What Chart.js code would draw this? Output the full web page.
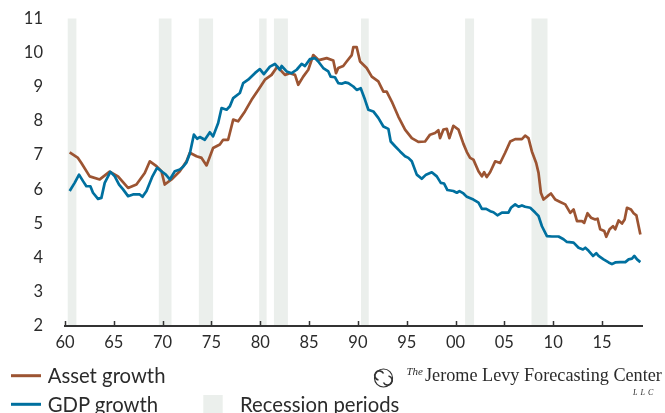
<!DOCTYPE html>
<html>
<head>
<meta charset="utf-8">
<script src="https://cdn.jsdelivr.net/npm/chart.js@4.4.1/dist/chart.umd.min.js"></script>
<style>
    body { margin: 0; background: #fff; }
    #wrap { position: relative; width: 665px; height: 413px; overflow: hidden; }
    #chart { position: absolute; left: 0; top: 0; }
    #legend { position: absolute; left: 0; top: 0; pointer-events: none; }
    .lbl { font-family: Lato, sans-serif; font-size: 20.3px; fill: #2b2b2b; }
    .logo { font-family: "Liberation Serif", serif; fill: #2b2b2b; }
</style>
</head>
<body>
<div id="wrap">
    <canvas id="chart" width="665" height="360"></canvas>
    <svg id="legend" width="665" height="413">
        <line x1="11" y1="375.7" x2="41" y2="375.7" stroke="#9c5432" stroke-width="3"/>
        <text class="lbl" x="47.7" y="383.3">Asset growth</text>
        <line x1="11" y1="404.3" x2="41" y2="404.3" stroke="#00709f" stroke-width="3"/>
        <text class="lbl" x="47.7" y="412">GDP growth</text>
        <rect x="203.3" y="395" width="19.4" height="20" fill="#ebefec"/>
        <text class="lbl" x="240" y="412">Recession periods</text>

        <!-- logo mark -->
        <circle cx="383.5" cy="378" r="9" fill="none" stroke="#333" stroke-width="1.2"/>
        <path d="M378.5 380 a 4.6 4.6 0 1 1 5 -6.5" fill="none" stroke="#333" stroke-width="1.6"/>
        <path d="M388.5 376 a 4.6 4.6 0 1 1 -5 6.5" fill="none" stroke="#333" stroke-width="1.6"/>
        <text class="logo" x="406.5" y="375" font-size="11" font-style="italic">The</text>
        <text class="logo" x="425" y="380.7" font-size="18.2">Jerome Levy Forecasting Center</text>
        <text class="logo" x="633" y="394.5" font-size="8" font-style="italic" letter-spacing="3">LLC</text>
    </svg>
</div>
<script>
// GDP growth, trailing rate (%)
const gdpYear = [1960.48, 1960.99, 1961.44, 1961.85, 1962.19, 1962.60, 1962.87, 1963.38, 1963.73, 1964.07,
    1964.65, 1965.10, 1965.54, 1965.95, 1966.46, 1966.97, 1967.66, 1967.94, 1968.35, 1968.96,
    1969.43, 1969.88, 1970.33, 1970.74, 1971.25, 1971.76, 1972.10, 1972.45, 1972.79, 1973.20,
    1973.53, 1973.81, 1974.32, 1974.84, 1975.17, 1975.69, 1976.04, 1976.55, 1976.89, 1977.23,
    1977.91, 1978.25, 1978.76, 1979.45, 1979.96, 1980.37, 1980.99, 1981.50, 1982.01, 1982.19,
    1982.70, 1983.21, 1983.73, 1984.24, 1984.58, 1985.09, 1985.60, 1985.94, 1986.45, 1986.97,
    1987.21, 1987.65, 1987.99, 1988.34, 1988.68, 1989.02, 1989.53, 1989.88, 1990.29, 1990.73,
    1991.07, 1991.58, 1992.09, 1992.61, 1993.12, 1993.36, 1993.81, 1994.32, 1994.83, 1995.17,
    1995.52, 1996.03, 1996.54, 1996.98, 1997.57, 1998.08, 1998.49, 1998.83, 1999.17, 1999.78,
    2000.13, 2000.40, 2000.81, 2001.16, 2001.83, 2002.35, 2002.70, 2003.14, 2003.55, 2003.88,
    2004.29, 2004.75, 2005.42, 2005.67, 2006.11, 2006.45, 2006.80, 2007.13, 2007.65, 2008.16,
    2008.50, 2008.85, 2009.36, 2009.87, 2010.55, 2011.06, 2011.41, 2012.09, 2012.60, 2013.05,
    2013.29, 2013.63, 2014.08, 2014.41, 2014.65, 2015.16, 2015.68, 2016.02, 2016.36, 2016.87,
    2017.39, 2017.73, 2018.07, 2018.31, 2018.59, 2018.93];
const gdpGrowth = [5.95, 6.19, 6.43, 6.24, 6.09, 6.09, 5.90, 5.72, 5.75, 6.19,
    6.51, 6.38, 6.14, 6.00, 5.80, 5.85, 5.85, 5.78, 5.95, 6.38,
    6.63, 6.53, 6.43, 6.29, 6.53, 6.58, 6.66, 6.79, 7.05, 7.60,
    7.48, 7.53, 7.45, 7.67, 7.55, 7.94, 8.38, 8.33, 8.43, 8.67,
    8.82, 9.11, 9.21, 9.40, 9.52, 9.37, 9.59, 9.67, 9.50, 9.61,
    9.45, 9.40, 9.50, 9.67, 9.61, 9.81, 9.84, 9.74, 9.55, 9.45,
    9.30, 9.28, 9.11, 9.09, 9.13, 9.11, 9.01, 8.91, 8.96, 8.62,
    8.33, 8.28, 8.09, 7.84, 7.77, 7.40, 7.26, 7.11, 6.97, 6.92,
    6.82, 6.43, 6.31, 6.43, 6.50, 6.38, 6.19, 6.17, 5.98, 5.95,
    5.90, 5.95, 5.88, 5.78, 5.70, 5.61, 5.43, 5.43, 5.36, 5.33,
    5.24, 5.32, 5.32, 5.46, 5.56, 5.49, 5.53, 5.49, 5.46, 5.32,
    5.22, 4.92, 4.63, 4.62, 4.62, 4.54, 4.46, 4.44, 4.29, 4.24,
    4.29, 4.20, 4.05, 4.13, 4.05, 3.95, 3.86, 3.81, 3.86, 3.87,
    3.87, 3.95, 3.97, 4.05, 3.95, 3.87];

// Asset growth, trailing rate (%)
const assetYear = [1960.48, 1961.33, 1961.68, 1962.53, 1963.56, 1964.58, 1965.43, 1966.46, 1967.32, 1968.17,
    1968.69, 1969.37, 1969.88, 1970.22, 1970.91, 1971.76, 1972.45, 1972.79, 1973.47, 1973.99,
    1974.50, 1975.17, 1975.86, 1976.20, 1976.71, 1977.23, 1977.74, 1978.43, 1979.11, 1979.79,
    1980.48, 1981.16, 1981.74, 1982.53, 1983.04, 1983.56, 1983.89, 1984.40, 1984.92, 1985.43,
    1985.94, 1986.11, 1986.80, 1987.48, 1987.76, 1987.99, 1988.50, 1988.85, 1989.37, 1989.53,
    1989.88, 1990.22, 1990.90, 1991.42, 1992.09, 1992.61, 1992.95, 1993.47, 1994.14, 1994.83,
    1995.52, 1996.19, 1996.88, 1997.39, 1997.90, 1998.24, 1998.42, 1998.76, 1999.11, 1999.37,
    1999.78, 2000.30, 2000.81, 2001.16, 2001.49, 2001.83, 2002.35, 2002.70, 2002.93, 2003.20,
    2003.54, 2004.06, 2004.57, 2005.08, 2005.60, 2006.11, 2006.80, 2007.13, 2007.47, 2007.82,
    2008.26, 2008.50, 2008.74, 2009.01, 2009.42, 2009.77, 2010.21, 2010.72, 2011.24, 2011.75,
    2012.09, 2012.44, 2012.95, 2013.18, 2013.52, 2013.87, 2014.31, 2014.55, 2014.82, 2015.23,
    2015.44, 2015.78, 2016.13, 2016.36, 2016.70, 2017.05, 2017.32, 2017.56, 2017.97, 2018.24,
    2018.52, 2018.93];
const assetGrowth = [7.08, 6.92, 6.77, 6.38, 6.29, 6.52, 6.38, 6.04, 6.14, 6.48,
    6.82, 6.68, 6.53, 6.14, 6.29, 6.53, 6.82, 7.07, 6.97, 6.92,
    6.70, 7.21, 7.31, 7.45, 7.45, 8.04, 7.99, 8.28, 8.62, 8.91,
    9.21, 9.35, 9.59, 9.35, 9.40, 9.35, 9.06, 9.30, 9.50, 9.93,
    9.79, 9.79, 9.84, 9.77, 9.40, 9.55, 9.61, 9.74, 9.93, 10.16,
    10.16, 9.74, 9.55, 9.30, 9.16, 8.86, 8.86, 8.57, 8.13, 7.75,
    7.50, 7.39, 7.40, 7.60, 7.65, 7.73, 7.50, 7.75, 7.77, 7.50,
    7.86, 7.75, 7.33, 7.09, 6.92, 6.87, 6.53, 6.38, 6.50, 6.36,
    6.50, 6.82, 6.77, 7.07, 7.40, 7.47, 7.47, 7.57, 7.50, 7.11,
    6.77, 6.48, 5.90, 5.70, 5.80, 5.88, 5.70, 5.63, 5.56, 5.31,
    5.41, 5.07, 5.07, 5.02, 5.30, 5.17, 5.12, 5.14, 4.83, 4.78,
    4.61, 4.83, 4.92, 4.83, 5.09, 5.00, 5.12, 5.46, 5.41, 5.30,
    5.24, 4.68];

// NBER recession periods (shaded)
const recessionStart = [1960.28, 1969.61, 1973.71, 1979.89, 1981.40, 1990.32, 2000.98, 2007.78];
const recessionEnd   = [1961.17, 1970.91, 1975.17, 1980.65, 1982.83, 1991.11, 2001.90, 2009.42];

const xTickYears = [1960, 1965, 1970, 1975, 1980, 1985, 1990, 1995, 2000, 2005, 2010, 2015];
const yMin = 2, yMax = 11;

const textColor = '#2b2b2b';

function toPoints(xs, ys) {
    return xs.map((x, i) => ({ x: x, y: ys[i] }));
}

// grey bands behind the lines
const recessionBands = {
    id: 'recessionBands',
    beforeDatasetsDraw(chart) {
        const { ctx, chartArea, scales: { x } } = chart;
        ctx.save();
        ctx.fillStyle = '#ebefec';
        recessionStart.forEach((s, i) => {
            const x0 = x.getPixelForValue(s);
            const x1 = x.getPixelForValue(recessionEnd[i]);
            ctx.fillRect(x0, chartArea.top, x1 - x0, chartArea.bottom - chartArea.top);
        });
        ctx.restore();
    }
};

// baseline with small ticks pointing up into the plot
const baseAxis = {
    id: 'baseAxis',
    afterDatasetsDraw(chart) {
        const { ctx, chartArea, scales: { x } } = chart;
        const y = chartArea.bottom;
        ctx.save();
        ctx.strokeStyle = '#333';
        ctx.lineWidth = 2;
        ctx.beginPath();
        ctx.moveTo(chartArea.left, y);
        ctx.lineTo(chartArea.right, y);
        ctx.stroke();
        ctx.lineWidth = 1.5;
        xTickYears.forEach(t => {
            const px = Math.round(x.getPixelForValue(t)) + 0.5;
            ctx.beginPath();
            ctx.moveTo(px, y);
            ctx.lineTo(px, y - 5);
            ctx.stroke();
        });
        ctx.restore();
    }
};

const ctx = document.getElementById('chart').getContext('2d');
new Chart(ctx, {
    type: 'line',
    data: {
        datasets: [
            {
                label: 'GDP growth',
                data: toPoints(gdpYear, gdpGrowth),
                borderColor: '#00709f',
                borderWidth: 2.7,
                pointRadius: 0,
                tension: 0,
                borderJoinStyle: 'round'
            },
            {
                label: 'Asset growth',
                data: toPoints(assetYear, assetGrowth),
                borderColor: '#9c5432',
                borderWidth: 2.7,
                pointRadius: 0,
                tension: 0,
                borderJoinStyle: 'round'
            }
        ]
    },
    options: {
        responsive: false,
        animation: false,
        layout: { padding: { top: 18.5, right: 22, left: 0, bottom: 0 } },
        plugins: {
            legend: { display: false },
            tooltip: { enabled: false }
        },
        scales: {
            x: {
                type: 'linear',
                min: 1959.9,
                max: 2019.2,
                afterBuildTicks: scale => {
                    scale.ticks = xTickYears.map(v => ({ value: v }));
                },
                afterFit: scale => { scale.height = 34; },
                ticks: {
                    color: textColor,
                    font: { family: 'Lato', size: 16.5 },
                    padding: 7,
                    maxRotation: 0,
                    autoSkip: false,
                    callback: v => String(v % 100).padStart(2, '0')
                },
                grid: { display: false, drawTicks: false },
                border: { display: false }
            },
            y: {
                min: yMin,
                max: yMax,
                afterFit: scale => {
                    scale.width = 64;
                    // label padding is horizontal only; keep it out of the top/bottom reserve
                    scale.paddingTop = 10;
                    scale.paddingBottom = 10;
                },
                ticks: {
                    stepSize: 1,
                    color: textColor,
                    font: { family: 'Lato', size: 16.5 },
                    padding: 21
                },
                grid: { display: false, drawTicks: false },
                border: { display: false }
            }
        }
    },
    plugins: [recessionBands, baseAxis]
});
</script>
</body>
</html>
